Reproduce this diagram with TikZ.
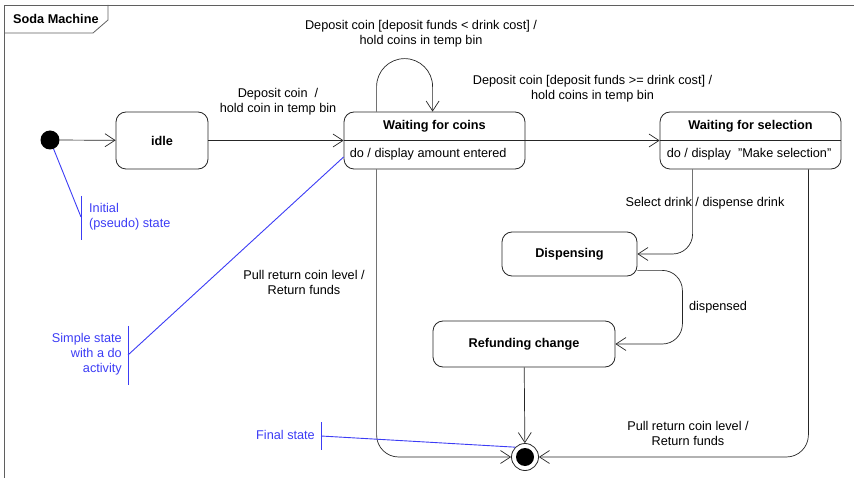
\documentclass[tikz,border=0pt]{standalone}
\usepackage{fontspec}
\setmainfont{Liberation Sans}
\usetikzlibrary{arrows.meta}
\definecolor{notecol}{RGB}{60,60,245}
\definecolor{framecol}{RGB}{95,95,95}
\tikzset{
  state/.style={draw=black!85, line width=0.8pt, rounded corners=10pt, inner sep=0pt, font=\bfseries},
  trans/.style={draw=black!85, line width=0.7pt, -{Straight Barb[length=10pt,width=13pt,line width=0.7pt]}},
  lbl/.style={align=center, inner sep=0pt},
  note/.style={draw=notecol, line width=0.9pt},
  notetext/.style={text=notecol, inner sep=0pt}
}
\begin{document}
\fontsize{12.7}{15}\selectfont
\begin{tikzpicture}[x=1pt, y=-1pt]
    \useasboundingbox (0,0) rectangle (854,478);
    \clip (0,0) rectangle (854,478);

    % Frame of the state machine
    \draw[framecol, line width=0.8pt] (4,480) -- (4,5) -- (856,5);
    \draw[framecol, line width=0.8pt] (4,33) -- (93,33) -- (108,20) -- (108,5);
    \node[anchor=west, inner sep=0pt, font=\bfseries] (title) at (13,19) {Soda Machine};

    % Initial state
    \node[circle, fill=black, minimum size=19pt, inner sep=0pt] (ini) at (50,140) {};

    % Simple states
    \node[state, minimum width=92pt, minimum height=57pt] (idle) at (162,140.5) {idle};
    \node[state, minimum width=135pt, minimum height=44pt] (disp) at (569.5,254) {Dispensing};
    \node[state, minimum width=182pt, minimum height=46pt] (ref) at (524,344) {Refunding change};

    % States with a do activity
    \node[state, minimum width=181pt, minimum height=57pt] (wfc) at (434.5,140.5) {};
    \draw[black!85, line width=0.8pt] (wfc.west) -- (wfc.east);
    \node[font=\bfseries, inner sep=0pt] (wfcname) at ([yshift=14pt]wfc.center) {Waiting for coins};
    \node[anchor=west, inner sep=0pt] (wfcdo) at ([xshift=6pt, yshift=-14pt]wfc.west) {do / display amount entered};

    \node[state, minimum width=181pt, minimum height=57pt] (wfs) at (750.5,140.5) {};
    \draw[black!85, line width=0.8pt] (wfs.west) -- (wfs.east);
    \node[font=\bfseries, inner sep=0pt] (wfsname) at ([yshift=14pt]wfs.center) {Waiting for selection};
    \node[anchor=west, inner sep=0pt] (wfsdo) at ([xshift=7pt, yshift=-14pt]wfs.west) {do / display~~"Make selection"};

    % Final state
    \node[circle, draw=black!85, line width=0.8pt, fill=white, minimum size=27pt, inner sep=0pt] (fin) at (525,457) {};
    \fill (fin) circle (9pt);

    % Transitions
    \draw[trans] (ini) -- (idle);
    \draw[trans] (idle) -- (wfc);
    \draw[trans] (wfc) -- (wfs);
    \draw[trans] ([xshift=33pt]wfc.north west) -- ++(0,-25) arc[start angle=180, end angle=0, radius=28pt] -- ([xshift=89pt]wfc.north west);
    \draw[trans, rounded corners=22pt] ([xshift=33pt]wfc.south west) |- (fin.west);
    \draw[trans, rounded corners=22pt] ([xshift=-33pt]wfs.south east) |- (fin.east);
    \draw[trans, rounded corners=20pt] ([xshift=33pt]wfs.south west) |- (disp.east);
    \draw[trans, rounded corners=20pt] ([yshift=6pt]disp.south east) -| ([xshift=67pt]ref.east) -- (ref.east);
    \draw[trans] (ref) -- (fin);

    % Transition labels
    \node[lbl] (lloop) at (421,33.5) {Deposit coin [deposit funds < drink cost] /\\hold coins in temp bin};
    \node[lbl] (ldep) at (278,102) {Deposit coin~~/\\hold coin in temp bin};
    \node[lbl] (lenough) at (592.5,88.5) {Deposit coin [deposit funds >= drink cost] /\\hold coins in temp bin};
    \node[lbl] (lselect) at (705,203) {Select drink / dispense drink};
    \node[lbl] (ldone) at (718,307) {dispensed};
    \node[lbl] (lretleft) at (304,282) {Pull return coin level /\\Return funds};
    \node[lbl] (lretright) at (688,433.5) {Pull return coin level /\\Return funds};

    % Notes
    \coordinate (inibar) at (81,217);
    \draw[note] (81,196) -- (81,240);
    \draw[note] (ini) -- (inibar);
    \node[notetext, anchor=west, align=left] (initxt) at (89,217) {Initial\\(pseudo) state};

    \coordinate (simbar) at (128,355);
    \draw[note] (128,326) -- (128,385);
    \draw[note] (simbar) -- ([yshift=-16.5pt]wfc.west);
    \node[notetext, anchor=east, align=right] (simtxt) at (122,354) {Simple state\\with a do\\activity};

    \coordinate (finbar) at (321,436);
    \draw[note] (321,422) -- (321,450);
    \draw[note] (finbar) -- (fin.north west);
    \node[notetext, anchor=east] (fintxt) at (315,435) {Final state};
\end{tikzpicture}
\end{document}
